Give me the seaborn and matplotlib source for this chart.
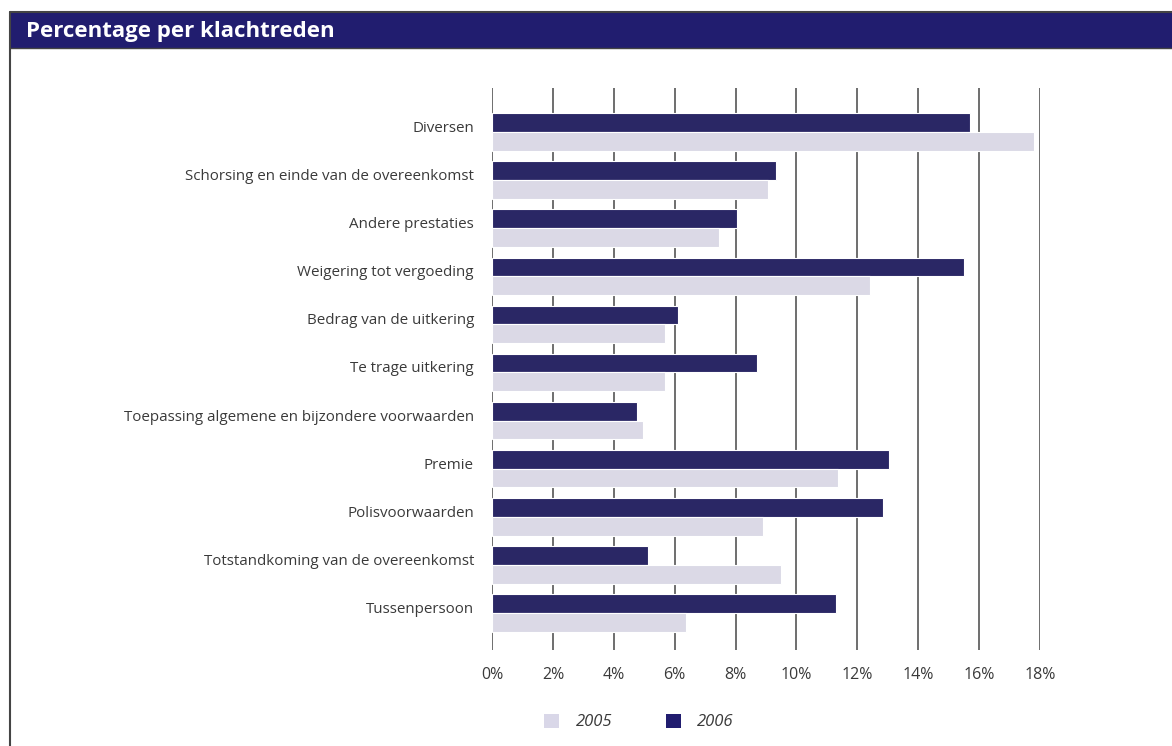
import matplotlib
matplotlib.use("Agg")
import matplotlib.pyplot as plt
import matplotlib.patches as mpatches
from matplotlib.lines import Line2D
import seaborn as sns
import pandas as pd

categories = [
    "Diversen",
    "Schorsing en einde van de overeenkomst",
    "Andere prestaties",
    "Weigering tot vergoeding",
    "Bedrag van de uitkering",
    "Te trage uitkering",
    "Toepassing algemene en bijzondere voorwaarden",
    "Premie",
    "Polisvoorwaarden",
    "Totstandkoming van de overeenkomst",
    "Tussenpersoon",
]
values_2005 = [17.8, 9.05, 7.44, 12.42, 5.67, 5.67, 4.97, 11.36, 8.9, 9.48, 6.38]
values_2006 = [15.7, 9.32, 8.06, 15.49, 6.1, 8.7, 4.76, 13.05, 12.83, 5.12, 11.29]
years = ["2005", "2006"]
tick_values = [0, 2, 4, 6, 8, 10, 12, 14, 16, 18]
tick_labels = [f"{v}%" for v in tick_values]
title = "Percentage per klachtreden"

navy = "#211d6f"
light = "#d9d7e8"
text_gray = "#3a3a3a"

df = pd.DataFrame({
    "categorie": categories * 2,
    "waarde": values_2005 + values_2006,
    "jaar": [years[0]] * len(categories) + [years[1]] * len(categories),
})

sns.set_theme(style="white")
plt.rcParams["font.family"] = ["Open Sans", "DejaVu Sans"]

fig = plt.figure(figsize=(11.72, 7.46), dpi=100)
W, H = 1172, 746
ax = fig.add_axes([492 / W, 1 - 650 / H, (1040 - 492) / W, (650 - 88) / H])

sns.barplot(
    data=df, y="categorie", x="waarde", hue="jaar", order=categories,
    hue_order=[years[1], years[0]], palette={years[0]: light, years[1]: navy},
    orient="h", width=0.78, edgecolor="white", linewidth=0.8, ax=ax,
    legend=False, zorder=3,
)

ax.set_xlim(0, 18)
ax.set_ylim(10.77, -0.915)
ax.set_xticks(tick_values)
ax.set_xticklabels(tick_labels, fontsize=11.5, color=text_gray)
ax.tick_params(axis="y", labelsize=10.9, labelcolor=text_gray, length=0, pad=13)
for t in ax.get_yticklabels():
    t.set_verticalalignment("baseline")
ax.tick_params(axis="x", length=0, pad=12)
ax.set_xlabel("")
ax.set_ylabel("")
for v in tick_values:
    ax.axvline(v, color="#555555", linewidth=1.2, zorder=1)
for s in ax.spines.values():
    s.set_visible(False)

# Frame and header band
fig.add_artist(mpatches.Rectangle((10 / W, 1 - 48 / H), (W - 10) / W, 36 / H,
                                  transform=fig.transFigure, facecolor=navy,
                                  edgecolor="none"))
fig.add_artist(Line2D([10 / W, 10 / W], [0, 1 - 12 / H], transform=fig.transFigure,
                      color="#444444", linewidth=1.5))
fig.add_artist(Line2D([10 / W, 1], [1 - 12 / H, 1 - 12 / H], transform=fig.transFigure,
                      color="#444444", linewidth=1.5))
fig.add_artist(Line2D([10 / W, 1], [1 - 48 / H, 1 - 48 / H], transform=fig.transFigure,
                      color="#444444", linewidth=1.0))
fig.text(26 / W, 1 - 32 / H, title, color="white", fontsize=16, fontweight="bold",
         va="center", ha="left")

handles = [mpatches.Patch(facecolor=light, edgecolor="none", label=years[0]),
           mpatches.Patch(facecolor=navy, edgecolor="none", label=years[1])]
leg = fig.legend(handles=handles, loc="center", bbox_to_anchor=(639 / W, 1 - 722 / H),
                 ncol=2, frameon=False, handlelength=0.9, handleheight=0.9,
                 handletextpad=1.0, columnspacing=3.2,
                 prop={"size": 12, "style": "italic"})
for t in leg.get_texts():
    t.set_color(text_gray)

fig.savefig("out.png", dpi=100)
